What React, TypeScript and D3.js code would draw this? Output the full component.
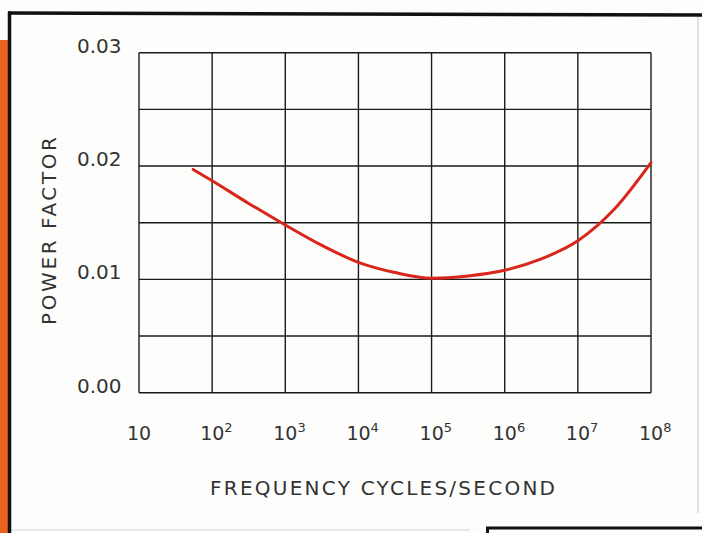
import React from "react";
import * as d3 from "d3";

const freqTicks = [1e1, 1e2, 1e3, 1e4, 1e5, 1e6, 1e7, 1e8];
const freqExponents = ["", "2", "3", "4", "5", "6", "7", "8"];
const pfGrid = [0, 0.005, 0.01, 0.015, 0.02, 0.025, 0.03];
const pfLabels = [
  { v: 0.03, t: "0.03" },
  { v: 0.02, t: "0.02" },
  { v: 0.01, t: "0.01" },
  { v: 0.0, t: "0.00" },
];
const curveLogFreq = [1.74, 2, 2.5, 3, 3.5, 4, 4.5, 5, 5.5, 6, 6.5, 7, 7.5, 8];
const curvePF = [0.0197, 0.0187, 0.0167, 0.0148, 0.013, 0.0115, 0.0106, 0.0101, 0.0103, 0.0108, 0.0118, 0.0134, 0.0162, 0.0203];

const W = 702;
const H = 533;
const FONT = "'DejaVu Sans', sans-serif";

export default function App() {
  const x = d3.scaleLog().domain([10, 1e8]).range([139, 651]);
  const y = d3.scaleLinear().domain([0, 0.03]).range([392.7, 52.7]);
  const pts: [number, number][] = curveLogFreq.map((l, i) => [Math.pow(10, l), curvePF[i]]);
  const line = d3
    .line<[number, number]>()
    .x((d) => x(d[0]))
    .y((d) => y(d[1]))
    .curve(d3.curveMonotoneX);

  return (
    <svg
      width={W}
      height={H}
      style={{ position: "absolute", left: 0, top: 0, background: "#fdfdfb" }}
    >
      {/* page decorations */}
      <rect x={0} y={40} width={8} height={H - 40} fill="#e9631f" />
      <line x1={698} y1={16} x2={698} y2={513} stroke="#d8d8d8" strokeWidth={1.5} />
      <line x1={10} y1={530} x2={470} y2={530} stroke="#e2e2e2" strokeWidth={1.5} />
      <line x1={8} y1={13} x2={702} y2={15} stroke="#111" strokeWidth={3.5} />
      <line x1={9.5} y1={11.5} x2={9.5} y2={H} stroke="#111" strokeWidth={3.5} />
      <line x1={486} y1={528} x2={702} y2={528} stroke="#111" strokeWidth={3} />
      <line x1={487.5} y1={527} x2={487.5} y2={H} stroke="#111" strokeWidth={3} />

      {/* grid */}
      <g stroke="#1a1a1a" strokeWidth={1.4}>
        {freqTicks.map((f) => (
          <line key={"v" + f} x1={x(f)} x2={x(f)} y1={y(0.03)} y2={y(0)} />
        ))}
        {pfGrid.map((v) => (
          <line key={"h" + v} x1={x(10)} x2={x(1e8)} y1={y(v)} y2={y(v)} />
        ))}
      </g>

      {/* curve */}
      <path d={line(pts) || ""} fill="none" stroke="#d9261c" strokeWidth={3} strokeLinecap="round" />

      {/* y labels */}
      <g fontFamily={FONT} fontSize={20} fill="#333">
        {pfLabels.map((d) => (
          <text key={d.t} x={77} y={y(d.v)}>
            {d.t}
          </text>
        ))}
      </g>

      {/* x labels */}
      <g fontFamily={FONT} fill="#333">
        {freqTicks.map((f, i) => (
          <text key={"t" + f} x={x(f) - 12} y={440} fontSize={19}>
            10
            {freqExponents[i] && (
              <tspan fontSize={13} dy={-8}>
                {freqExponents[i]}
              </tspan>
            )}
          </text>
        ))}
      </g>

      {/* axis titles */}
      <text
        x={210}
        y={495}
        fontFamily={FONT}
        fontSize={20}
        fill="#333"
        textLength={345}
        lengthAdjust="spacing"
      >
        FREQUENCY CYCLES/SECOND
      </text>
      <text
        transform="translate(56,325) rotate(-90)"
        x={0}
        y={0}
        fontFamily={FONT}
        fontSize={20}
        fill="#333"
        textLength={188}
        lengthAdjust="spacing"
      >
        POWER FACTOR
      </text>
    </svg>
  );
}
